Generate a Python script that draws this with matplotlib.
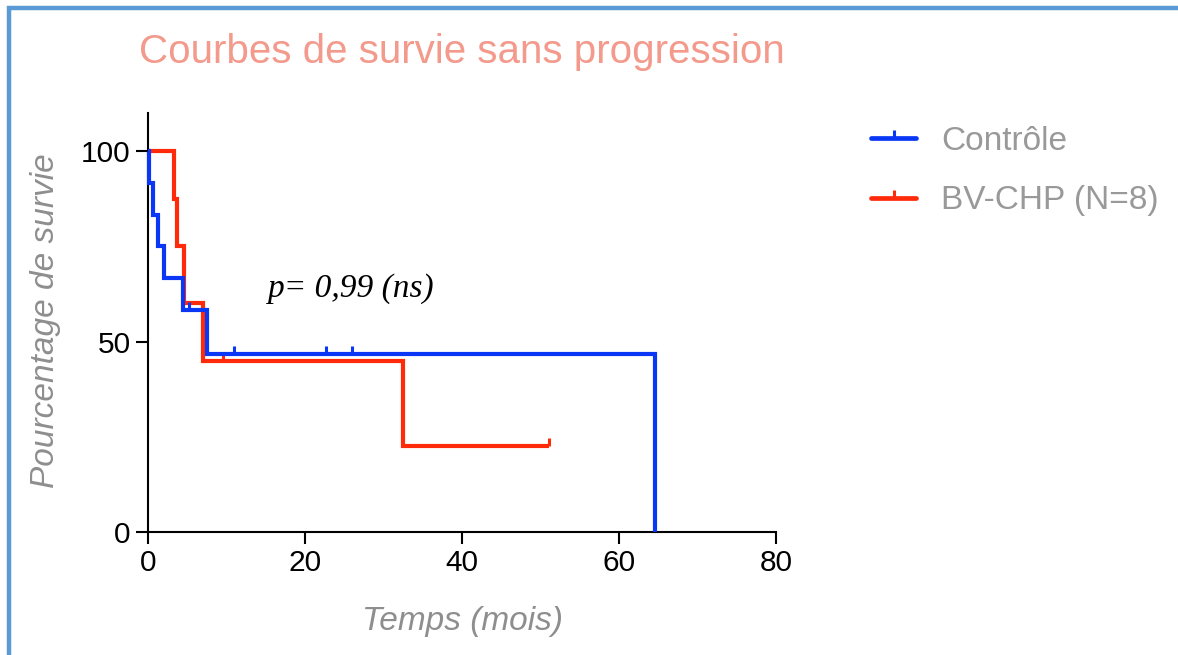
import matplotlib
matplotlib.use("Agg")
import matplotlib.pyplot as plt
import matplotlib.markers as mmarkers
from matplotlib.lines import Line2D
from matplotlib.patches import Rectangle
import numpy as np

# ---- data ----
title = "Courbes de survie sans progression"
xlabel = "Temps (mois)"
ylabel = "Pourcentage de survie"
p_text = "p= 0,99 (ns)"
labels = ["Contrôle", "BV-CHP (N=8)"]

ctrl_times = [0, 0.1, 0.7, 1.3, 2.1, 4.5, 7.5, 64.6]
ctrl_surv = [100, 91.7, 83.3, 75.0, 66.7, 58.3, 46.7, 0]
ctrl_censor_t = [5.2, 11.0, 22.7, 26.0]

bv_times = [0, 3.35, 3.65, 4.6, 6.95, 32.5, 51.1]
bv_surv = [100, 87.5, 75.0, 60.0, 45.0, 22.5, 22.5]
bv_censor_t = [9.5, 51.1]

xticks = [0, 20, 40, 60, 80]
yticks = [0, 50, 100]

blue = "#0A37F5"
red = "#FF2A0A"
title_col = "#F39A8C"
grey = "#8E8E8E"
legend_grey = "#999999"

W, H = 1178, 655
fig = plt.figure(figsize=(W / 100, H / 100), dpi=100)
ax = fig.add_axes([148 / W, 1 - 532 / H, (776 - 148) / W, (532 - 113) / H])

def surv_at(times, surv, t):
    idx = np.searchsorted(times, t, side="right") - 1
    return surv[idx]

lw = 3.0
ms = 6.0
mew = 2.2
series = [
    (bv_times, bv_surv, bv_censor_t, red, 2),
    (ctrl_times, ctrl_surv, ctrl_censor_t, blue, 3),
]
for times, surv, cens, col, z in series:
    ax.step(times, surv, where="post", color=col, lw=lw, clip_on=False,
            zorder=z, solid_joinstyle="miter", solid_capstyle="butt")
    cs = [surv_at(times, surv, t) for t in cens]
    ax.plot(cens, cs, linestyle="none", marker=mmarkers.TICKUP, ms=ms,
            mew=mew, color=col, clip_on=False, zorder=z)

ax.set_xlim(0, 80)
ax.set_ylim(0, 110)
ax.set_xticks(xticks)
ax.set_yticks(yticks)
for s in ["top", "right"]:
    ax.spines[s].set_visible(False)
for s in ["left", "bottom"]:
    ax.spines[s].set_linewidth(1.5)
ax.tick_params(axis="both", length=8.5, width=1.5, labelsize=21.5,
               direction="out", pad=4)
for lab in ax.get_xticklabels() + ax.get_yticklabels():
    lab.set_fontfamily("Liberation Sans")

ax.text(15.3, 61.7, p_text, fontsize=24, style="italic",
        family="Liberation Serif", va="baseline", ha="left")

fig.text(461.5 / W, 1 - 63 / H, title, color=title_col, fontsize=29,
         family="Liberation Sans", ha="center", va="baseline")
fig.text(462 / W, 1 - 630 / H, xlabel, color=grey, fontsize=24,
         style="italic", family="Liberation Sans", ha="center",
         va="baseline")
fig.text(46 / W, 1 - 321 / H, ylabel, color=grey, fontsize=24,
         style="italic", family="Liberation Sans", ha="center",
         va="center", rotation=90)

handles = [
    Line2D([], [], color=blue, lw=3.4, marker=mmarkers.TICKUP, ms=ms,
           mew=mew, solid_capstyle="round"),
    Line2D([], [], color=red, lw=3.4, marker=mmarkers.TICKUP, ms=ms,
           mew=mew, solid_capstyle="round"),
]
leg = fig.legend(handles, labels, loc="upper left",
                 bbox_to_anchor=(871 / W, 1 - 126 / H), frameon=False,
                 prop={"family": "Liberation Sans", "size": 24},
                 handlelength=1.35, handletextpad=0.75, labelspacing=0.85,
                 borderpad=0, borderaxespad=0, numpoints=1)
for t in leg.get_texts():
    t.set_color(legend_grey)

fig.patches.append(Rectangle((8.5 / W, -0.2), 1.5, 1.2 - 7.5 / H,
                             transform=fig.transFigure, fill=False,
                             edgecolor="#5B9BD5", linewidth=3.2,
                             clip_on=False))

fig.savefig("out.png", dpi=100)
